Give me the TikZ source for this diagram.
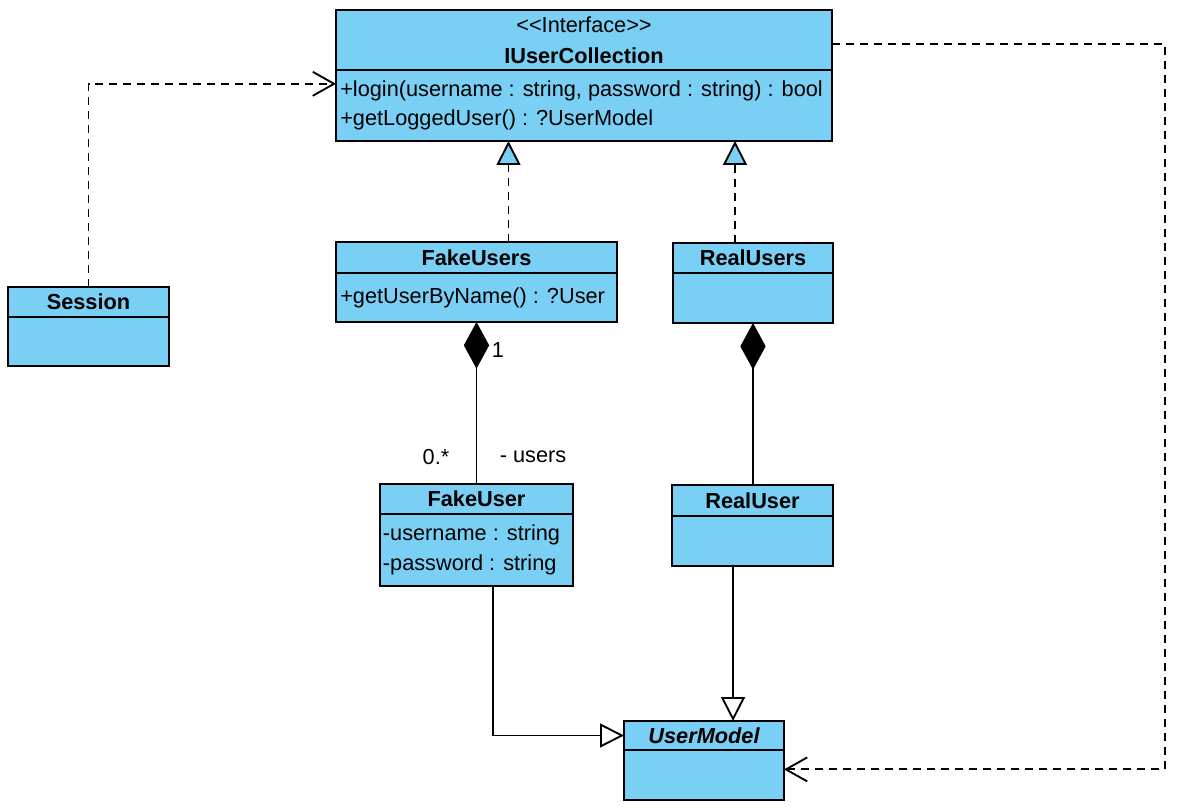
\documentclass[tikz,border=0pt]{standalone}
\usepackage{fontspec}
\usepackage{tikz}
\usetikzlibrary{arrows.meta}
\usetikzlibrary{positioning}
\newfontfamily\umlsans{Liberation Sans}
\definecolor{umlblue}{RGB}{122,207,245}

\begin{document}
\begin{tikzpicture}[x=0.75pt,y=0.75pt,yscale=-1,xscale=1,
  cls/.style={draw, fill=umlblue, line width=1.3pt, inner sep=0pt, outer sep=0pt},
  head/.style={cls, anchor=north west, align=center, font=\umlsans\bfseries\fontsize{16.3}{23}\selectfont},
  body/.style={cls},
  ops/.style={anchor=west, align=left, inner sep=0pt, font=\umlsans\fontsize{16.3}{22}\selectfont},
  lbl/.style={inner sep=0.75pt, font=\umlsans\fontsize{16.3}{20}\selectfont},
  depend/.style={line width=1.4pt, dash pattern=on 6pt off 4.5pt, -{Straight Barb[length=16pt,width=18pt]}},
  realize/.style={line width=1.4pt, dash pattern=on 6pt off 4.5pt, -{Triangle[length=18pt,width=18pt,fill=umlblue]}},
  general/.style={line width=1.4pt, -{Triangle[length=18pt,width=18pt,fill=white]}},
  compose/.style={line width=1.4pt, {Diamond[length=35pt,width=19pt]}-}]
%set diagram size 1186 x 809
\path[use as bounding box, fill=white] (0,0) rectangle (1186,809);

%Interface [id:iuc]
\node[head, minimum width=372pt, minimum height=45pt] (iucH) at (336,10) {{\mdseries <<Interface>>}\\IUserCollection};
\node[body, minimum width=372pt, minimum height=53.25pt, below=0pt of iucH] (iucB) {};
\node[ops] (iucOps) at ([xshift=3pt]iucB.west) {+login(username : string, password : string) : bool\\+getLoggedUser() : ?UserModel};

%Class [id:session]
\node[head, minimum width=120.75pt, minimum height=22.5pt] (sesH) at (8,287) {Session};
\node[body, minimum width=120.75pt, minimum height=36.75pt, below=0pt of sesH] (sesB) {};

%Class [id:fakeusers]
\node[head, minimum width=210.75pt, minimum height=23.25pt] (fuH) at (336,242) {FakeUsers};
\node[body, minimum width=210.75pt, minimum height=36.75pt, below=0pt of fuH] (fuB) {};
\node[ops] (fuOps) at ([xshift=3pt]fuB.west) {+getUserByName() : ?User};

%Class [id:realusers]
\node[head, minimum width=120pt, minimum height=22.5pt] (ruH) at (673,243) {RealUsers};
\node[body, minimum width=120pt, minimum height=37.5pt, below=0pt of ruH] (ruB) {};

%Class [id:fakeuser]
\node[head, minimum width=144.75pt, minimum height=22.5pt] (fuserH) at (380,484) {FakeUser};
\node[body, minimum width=144.75pt, minimum height=54pt, below=0pt of fuserH] (fuserB) {};
\node[ops] (fuserAttr) at ([xshift=2pt]fuserB.west) {-username : string\\-password : string};

%Class [id:realuser]
\node[head, minimum width=120.75pt, minimum height=23.25pt] (ruserH) at (672,485) {RealUser};
\node[body, minimum width=120.75pt, minimum height=37.5pt, below=0pt of ruserH] (ruserB) {};

%Abstract class [id:usermodel]
\node[head, minimum width=120pt, minimum height=21.75pt, font=\umlsans\bfseries\itshape\fontsize{16.3}{23}\selectfont] (umH) at (624,721) {UserModel};
\node[body, minimum width=120pt, minimum height=37.5pt, below=0pt of umH] (umB) {};

%Dependency Session -> IUserCollection
\draw[depend] (sesH.north) |- (iucB.175);
%Realizations
\draw[realize] ([xshift=24pt]fuH.north) -- ([xshift=24pt]fuH.north |- iucB.south);
\draw[realize] ([xshift=-13.5pt]ruH.north) -- ([xshift=-13.5pt]ruH.north |- iucB.south);
%Compositions
\draw[compose] (fuB.south) -- (fuB.south |- fuserH.north);
\draw[compose] (ruB.south) -- (ruB.south |- ruserH.north);
%Generalizations
\draw[general] ([xshift=12.4pt]fuserB.south) |- (umH.west);
\draw[general] ([xshift=-14.6pt]ruserB.south) -- ([xshift=-14.6pt]ruserB.south |- umH.north);
%Dependency IUserCollection -> UserModel
\draw[depend] (iucH.-1) -- ++(333,0) |- (umB.4);

% Text Node
\node[lbl] (oneLbl) at (498,350) {1};
% Text Node
\node[lbl] (manyLbl) at (436,457) {0.*};
% Text Node
\node[lbl] (roleLbl) at (533,457) {- users};

\end{tikzpicture}
\end{document}
